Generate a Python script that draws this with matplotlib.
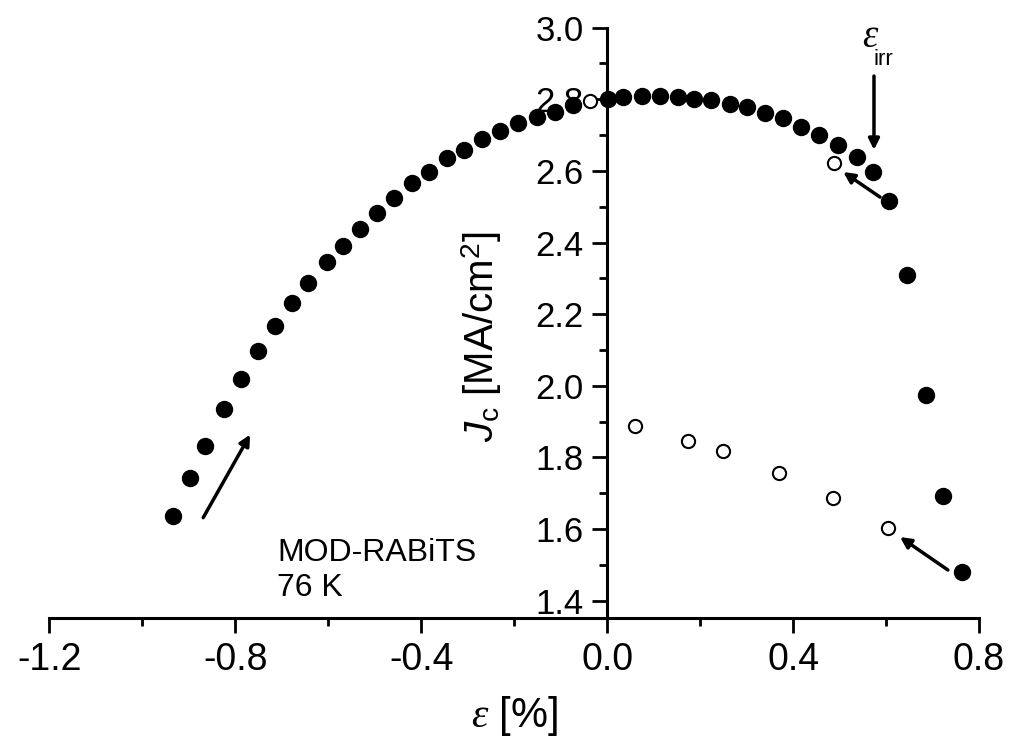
import matplotlib.pyplot as plt
from matplotlib.ticker import MultipleLocator

plt.rcParams['font.family'] = 'Liberation Sans'
plt.rcParams['axes.unicode_minus'] = False
plt.rcParams['mathtext.fontset'] = 'custom'
plt.rcParams['mathtext.rm'] = 'Liberation Sans'
plt.rcParams['mathtext.it'] = 'Liberation Serif:italic'
plt.rcParams['mathtext.bf'] = 'Liberation Sans:italic'

# loading branch (filled circles)
strain_load = [-0.935, -0.897, -0.865, -0.824, -0.787, -0.751, -0.714, -0.678,
               -0.643, -0.602, -0.568, -0.531, -0.495, -0.458, -0.419, -0.383,
               -0.344, -0.308, -0.269, -0.230, -0.191, -0.151, -0.112, -0.073,
               0.002, 0.034, 0.075, 0.114, 0.153, 0.187, 0.224, 0.265, 0.301,
               0.340, 0.378, 0.417, 0.456, 0.497, 0.538, 0.572, 0.606, 0.645,
               0.686, 0.723, 0.763]
jc_load = [1.637, 1.743, 1.832, 1.936, 2.020, 2.098, 2.167, 2.232,
           2.287, 2.346, 2.391, 2.438, 2.483, 2.525, 2.567, 2.597,
           2.636, 2.659, 2.689, 2.712, 2.734, 2.751, 2.765, 2.784,
           2.801, 2.806, 2.809, 2.809, 2.806, 2.801, 2.798, 2.787, 2.779,
           2.762, 2.748, 2.723, 2.701, 2.673, 2.639, 2.597, 2.516, 2.309,
           1.974, 1.692, 1.480]

# unloaded values (open circles)
strain_rel = [-0.037, 0.488, 0.060, 0.174, 0.249, 0.370, 0.486, 0.604]
jc_rel = [2.795, 2.622, 1.888, 1.846, 1.818, 1.757, 1.687, 1.603]

x_ticks = [-1.2, -0.8, -0.4, 0.0, 0.4, 0.8]
x_labels = ['-1.2', '-0.8', '-0.4', '0.0', '0.4', '0.8']
y_ticks = [1.4, 1.6, 1.8, 2.0, 2.2, 2.4, 2.6, 2.8, 3.0]

fig = plt.figure(figsize=(10.09, 7.44), dpi=100)
ax = fig.add_axes([0.0489, 0.1694, 0.9214, 0.7934])

ax.plot(strain_load, jc_load, 'o', color='k', ms=11.5, zorder=3, clip_on=False)
ax.plot(strain_rel, jc_rel, 'o', mfc='white', mec='k', ms=9.5, mew=1.5,
        zorder=4, clip_on=False)

# arrows showing direction of the sweep
arrow = dict(arrowstyle='-|>', lw=2.5, color='k', mutation_scale=16,
             shrinkA=0, shrinkB=0)
ax.annotate('', xy=(-0.768, 1.864), xytext=(-0.869, 1.632), arrowprops=arrow)
ax.annotate('', xy=(0.574, 2.659), xytext=(0.574, 2.865), arrowprops=arrow)
ax.annotate('', xy=(0.508, 2.597), xytext=(0.587, 2.527), arrowprops=arrow)
ax.annotate('', xy=(0.630, 1.578), xytext=(0.733, 1.486), arrowprops=arrow)

# epsilon_irr label: big italic epsilon with a low subscript
ax.text(0.548, 2.946, r'$\varepsilon$', fontsize=28, ha='left', va='baseline')
ax.text(0.572, 2.896, 'irr', fontsize=16, ha='left', va='baseline')
ax.text(-0.71, 1.414, 'MOD-RABiTS\n76 K', fontsize=23, ha='left',
        va='baseline', linespacing=1.22)

ax.set_xlim(-1.2, 0.8)
ax.set_ylim(1.352, 3.0)
ax.set_xticks(x_ticks)
ax.set_xticklabels(x_labels)
ax.set_yticks(y_ticks)
ax.set_yticklabels(['%.1f' % v for v in y_ticks])
ax.xaxis.set_minor_locator(MultipleLocator(0.2))
ax.yaxis.set_minor_locator(MultipleLocator(0.1))

ax.spines['left'].set_position(('data', 0))
ax.spines['top'].set_visible(False)
ax.spines['right'].set_visible(False)
ax.spines['left'].set_linewidth(2.2)
ax.spines['bottom'].set_linewidth(2.2)
ax.tick_params(which='major', length=11, width=2, pad=6)
ax.tick_params(which='minor', length=6, width=2)
ax.tick_params(axis='x', labelsize=27)
ax.tick_params(axis='y', labelsize=25)

ax.set_xlabel(r'$\varepsilon$ [%]', fontsize=30, labelpad=12)
ax.set_ylabel(r'$\mathbf{J}_{\rm c}$ [MA/cm$^{2}$]', fontsize=29)
ax.yaxis.set_label_coords(0.489, 0.476)

fig.savefig('out.png', dpi=100)
